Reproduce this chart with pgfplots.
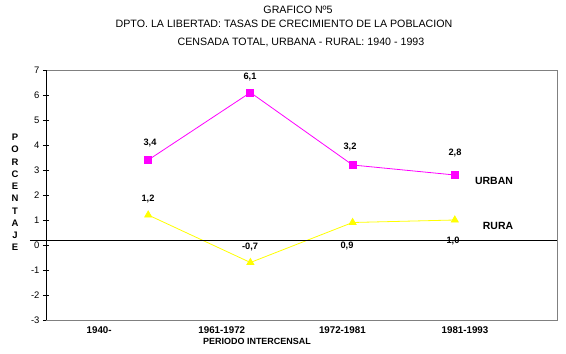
\documentclass[border=0pt]{standalone}
\usepackage{pgfplots}
\pgfplotsset{compat=1.18}
\usepackage{fontspec}
\setmainfont{Liberation Sans}
\definecolor{urb}{RGB}{255,0,255}
\definecolor{rur}{RGB}{255,255,0}
\begin{document}
\begin{tikzpicture}
\useasboundingbox (0,0) rectangle (566bp,354bp);
\begin{axis}[
  at={(46bp,34bp)}, anchor=south west,
  scale only axis, width=511bp, height=250bp,
  xmin=0, xmax=5, ymin=-3, ymax=7,
  clip=false,
  axis line style={draw=gray, line width=0.8bp},
  xtick={0.52,1.72,2.90,4.10},
  xticklabels={1940-,1961-1972,1972-1981,1981-1993},
  x tick label style={font=\fontsize{9.8}{11}\selectfont\bfseries},
  xtick style={draw=none},
  ytick={-3,-2,-1,0,1,2,3,4,5,6,7},
  ytick pos=left,
  y tick label style={font=\fontsize{9.5}{10}\selectfont},
  ytick style={black, line width=0.8bp},
  tick align=center, major tick length=6bp,
  /pgf/number format/assume math mode=true,
]
\addplot[urb, line width=0.8bp, mark=square*, mark size=3.5bp, mark options={solid}] coordinates {(1,3.4) (2,6.1) (3,3.2) (4,2.8)};
\addplot[rur, line width=0.8bp, mark=triangle*, mark size=4bp, mark options={solid}] coordinates {(1,1.2) (2,-0.7) (3,0.9) (4,1.0)};
\draw[black, line width=0.8bp] (rel axis cs:0,0) -- (rel axis cs:0,1);
\draw[black, line width=0.8bp] (axis cs:-0.157,0.2) -- (axis cs:5,0.2);
\end{axis}
% titles
\node[font=\fontsize{10.7}{12}\selectfont] at (298bp,344bp) {GRAFICO Nº5};
\node[font=\fontsize{10.7}{12}\selectfont] at (284bp,330bp) {DPTO. LA LIBERTAD: TASAS DE CRECIMIENTO DE LA POBLACION};
\node[font=\fontsize{10.7}{12}\selectfont] at (301bp,312bp) {CENSADA TOTAL, URBANA - RURAL: 1940 - 1993};
\node[font=\fontsize{9}{10}\selectfont\bfseries] at (257bp,13bp) {PERIODO INTERCENSAL};
\node[font=\fontsize{9.5}{12.3}\selectfont\bfseries, align=center] at (15bp,161.5bp) {P\\O\\R\\C\\E\\N\\T\\A\\J\\E};
% data labels
\begin{scope}[every node/.style={font=\fontsize{9.3}{10}\selectfont\bfseries}]
\node at (150bp,211bp) {3,4};
\node at (250bp,277bp) {6,1};
\node at (350bp,207bp) {3,2};
\node at (455bp,201bp) {2,8};
\node at (148bp,155bp) {1,2};
\node at (250bp,107bp) {-0,7};
\node at (347bp,108bp) {0,9};
\node at (453bp,113bp) {1,0};
\end{scope}
\node[font=\fontsize{10.5}{11}\selectfont\bfseries] at (494bp,173bp) {URBAN};
\node[font=\fontsize{10.5}{11}\selectfont\bfseries] at (498bp,128bp) {RURA};
\end{tikzpicture}
\end{document}
